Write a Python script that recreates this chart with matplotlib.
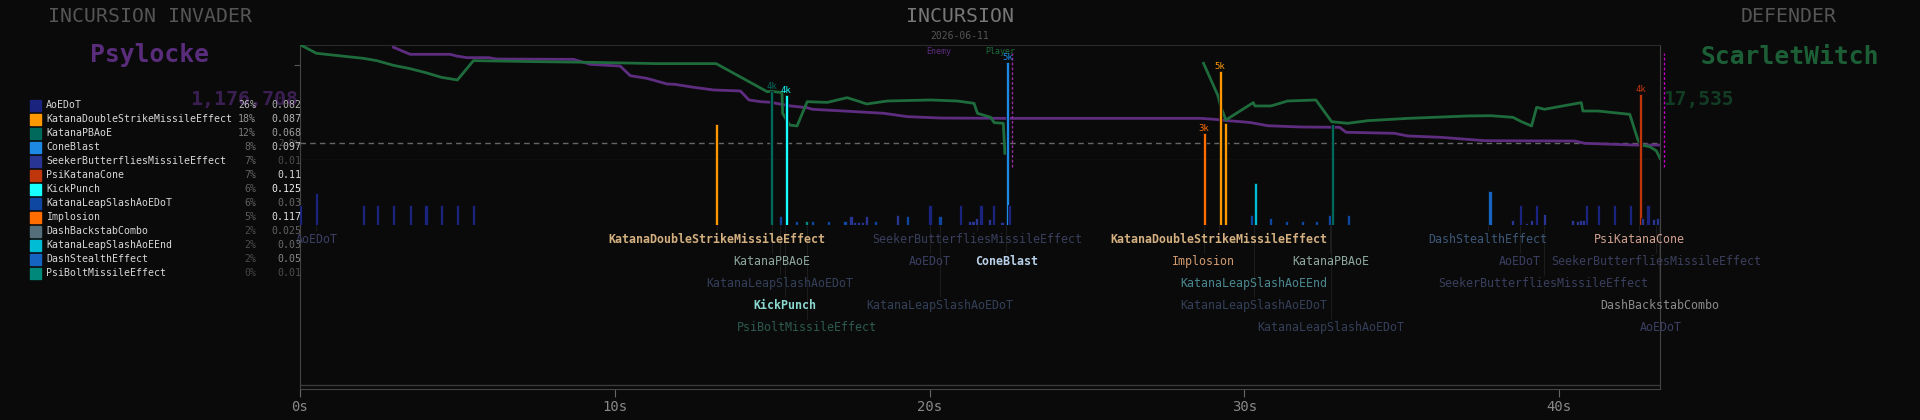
import matplotlib
matplotlib.use('Agg')
import matplotlib.pyplot as plt
from matplotlib.patches import Rectangle
import numpy as np

W, H = 1920, 420
BG = '#0a0a0a'
T_MAX = 43.2
plt.rcParams['font.family'] = 'DejaVu Sans Mono'

# ability table (legend)
abilities = ['AoEDoT', 'KatanaDoubleStrikeMissileEffect', 'KatanaPBAoE', 'ConeBlast',
             'SeekerButterfliesMissileEffect', 'PsiKatanaCone', 'KickPunch',
             'KatanaLeapSlashAoEDoT', 'Implosion', 'DashBackstabCombo',
             'KatanaLeapSlashAoEEnd', 'DashStealthEffect', 'PsiBoltMissileEffect']
ability_colors = ['#1a237e', '#ff9800', '#00695c', '#1e88e5', '#283593', '#bf360c', '#18ffff',
                  '#0d47a1', '#ff6d00', '#546e7a', '#00bcd4', '#1565c0', '#00897b']
label_colors = ['#3b3f63', '#d4b080', '#8fa9a0', '#b8d0e8', '#3a3f5e', '#d0a090', '#8ad8d0',
                '#34405a', '#d09a70', '#8a8a8a', '#4a8890', '#3d5878', '#2d5a50']
bold_labels = ['KatanaDoubleStrikeMissileEffect', 'ConeBlast', 'KickPunch']
shares = [26, 18, 12, 8, 7, 7, 6, 6, 5, 2, 2, 2, 0]
rates = [0.082, 0.087, 0.068, 0.097, 0.01, 0.11, 0.125, 0.03, 0.117, 0.025, 0.03, 0.05, 0.01]

# damage events: time (s), ability, damage (k)
event_t = [0.02, 0.52, 2.01, 2.46, 2.97, 3.51, 4.0, 4.49, 5.0, 5.51,
           13.24, 14.99, 15.27, 15.44, 15.78, 16.1, 16.29, 16.8, 17.31, 17.5,
           17.62, 17.75, 17.87, 18.0, 18.29, 18.98, 19.31, 20.01, 20.33, 20.99,
           21.27, 21.38, 21.5, 21.63, 21.89, 22.03, 22.3, 22.48, 22.55,
           28.72, 29.23, 29.39, 30.23, 30.35, 30.82, 31.33, 31.84, 32.28, 32.7, 32.79, 33.3,
           37.8, 38.52, 38.76, 38.96, 39.13, 39.28, 39.53, 40.42, 40.57, 40.69, 40.76,
           40.87, 41.25, 41.76, 42.27, 42.59, 42.65, 42.82, 42.98, 43.13, 43.25]
event_ability = ['AoEDoT'] * 10 + [
    'KatanaDoubleStrikeMissileEffect', 'KatanaPBAoE', 'KatanaLeapSlashAoEDoT', 'KickPunch',
    'KatanaLeapSlashAoEDoT', 'PsiBoltMissileEffect', 'KatanaLeapSlashAoEDoT',
    'KatanaLeapSlashAoEDoT', 'KatanaLeapSlashAoEDoT', 'SeekerButterfliesMissileEffect',
    'SeekerButterfliesMissileEffect', 'SeekerButterfliesMissileEffect',
    'SeekerButterfliesMissileEffect', 'SeekerButterfliesMissileEffect',
    'KatanaLeapSlashAoEDoT', 'SeekerButterfliesMissileEffect', 'KatanaLeapSlashAoEDoT',
    'AoEDoT', 'KatanaLeapSlashAoEDoT', 'AoEDoT',
    'SeekerButterfliesMissileEffect', 'SeekerButterfliesMissileEffect',
    'SeekerButterfliesMissileEffect', 'AoEDoT', 'SeekerButterfliesMissileEffect', 'AoEDoT',
    'SeekerButterfliesMissileEffect', 'ConeBlast', 'AoEDoT',
    'Implosion', 'KatanaDoubleStrikeMissileEffect', 'KatanaDoubleStrikeMissileEffect',
    'KatanaLeapSlashAoEDoT', 'KatanaLeapSlashAoEEnd', 'KatanaLeapSlashAoEDoT',
    'KatanaLeapSlashAoEDoT', 'KatanaLeapSlashAoEDoT', 'KatanaLeapSlashAoEDoT',
    'KatanaLeapSlashAoEDoT', 'KatanaPBAoE', 'KatanaLeapSlashAoEDoT',
    'DashStealthEffect', 'SeekerButterfliesMissileEffect', 'AoEDoT',
    'SeekerButterfliesMissileEffect', 'SeekerButterfliesMissileEffect', 'AoEDoT',
    'SeekerButterfliesMissileEffect', 'SeekerButterfliesMissileEffect',
    'SeekerButterfliesMissileEffect', 'SeekerButterfliesMissileEffect',
    'SeekerButterfliesMissileEffect',
    'AoEDoT', 'AoEDoT', 'AoEDoT', 'AoEDoT', 'PsiKatanaCone', 'SeekerButterfliesMissileEffect',
    'AoEDoT', 'SeekerButterfliesMissileEffect', 'SeekerButterfliesMissileEffect',
    'DashBackstabCombo']
event_k = [0.62, 1.0, 0.62, 0.62, 0.62, 0.62, 0.62, 0.62, 0.62, 0.62,
           3.15, 4.2, 0.28, 4.05, 0.13, 0.13, 0.13, 0.13, 0.13, 0.28,
           0.08, 0.08, 0.08, 0.28, 0.13, 0.32, 0.28, 0.62, 0.28, 0.62,
           0.13, 0.13, 0.22, 0.62, 0.18, 0.62, 0.09, 5.1, 0.62,
           2.87, 4.8, 3.2, 0.3, 1.3, 0.22, 0.13, 0.13, 0.13, 0.3, 3.15, 0.3,
           1.05, 0.16, 0.62, 0.07, 0.16, 0.62, 0.33, 0.16, 0.13, 0.17, 0.17,
           0.62, 0.62, 0.62, 0.62, 4.1, 0.22, 0.62, 0.18, 0.22, 1.4]

# big-hit tags
peak_t = [14.99, 15.44, 22.48, 28.72, 29.23, 42.59]
peak_text = ['4k', '4k', '5k', '3k', '5k', '4k']

# ability names under the timeline
label_t = [0.52, 13.23, 21.5, 29.2, 37.74, 42.54,
           15.0, 20.0, 22.43, 28.7, 32.73, 38.75, 43.07,
           15.24, 30.3, 39.5,
           15.41, 20.32, 30.3, 43.18,
           16.09, 32.74, 43.23]
label_row = [1] * 6 + [2] * 7 + [3] * 3 + [4] * 4 + [5] * 3
label_name = ['AoEDoT', 'KatanaDoubleStrikeMissileEffect', 'SeekerButterfliesMissileEffect',
              'KatanaDoubleStrikeMissileEffect', 'DashStealthEffect', 'PsiKatanaCone',
              'KatanaPBAoE', 'AoEDoT', 'ConeBlast', 'Implosion', 'KatanaPBAoE', 'AoEDoT',
              'SeekerButterfliesMissileEffect',
              'KatanaLeapSlashAoEDoT', 'KatanaLeapSlashAoEEnd', 'SeekerButterfliesMissileEffect',
              'KickPunch', 'KatanaLeapSlashAoEDoT', 'KatanaLeapSlashAoEDoT', 'DashBackstabCombo',
              'PsiBoltMissileEffect', 'KatanaLeapSlashAoEDoT', 'AoEDoT']

# health (%) of both sides
player_t = [0.02, 0.52, 2.01, 2.44, 2.97, 3.5, 4.0, 4.49, 5.0, 5.51, 7.52, 9.33, 11.34, 13.22,
            14.84, 14.99, 15.31, 15.33, 15.55, 15.79, 16.11, 16.75, 17.38, 17.75, 18.0, 18.65,
            20.03, 20.88, 21.41, 21.52, 21.94, 22.05, 22.34, 22.39, np.nan,
            28.7, 29.15, 29.25, 29.41, 30.28, 30.33, 30.84, 31.37, 32.27, 32.77, 33.28, 33.92,
            35.19, 37.1, 37.84, 38.53, 38.8, 39.12, 39.28, 39.53, 40.7, 40.75, 41.23, 42.24,
            42.5, 42.61, 42.87, 43.08, 43.23]
player_hp = [100, 92.8, 88.4, 86.4, 82.3, 79.4, 75.9, 71.9, 69.6, 86.4, 85.5, 84.9, 83.8, 83.8,
             59.4, 59.7, 58.6, 40.6, 30.4, 29.6, 50.7, 50.1, 54.2, 51.0, 48.7, 51.3,
             52.2, 51.3, 49.3, 40.6, 37.1, 32.5, 31.9, 5.8, np.nan,
             84.1, 56.5, 46.4, 34.8, 49.9, 47, 47, 51.3, 52.2, 33.3, 31.9, 34.2,
             36.2, 38.3, 38.5, 37.1, 33.3, 29.6, 45.8, 44.1, 49.9, 42.6, 42.6, 39.7,
             17.4, 13, 11.6, 8.1, 0]
enemy_t = [2.97, 3.5, 4.77, 4.98, 5.3, 6.0, 6.25, 8.69, 9.22, 10.17, 10.49, 11.02, 11.66, 11.9,
           12.51, 13.14, 13.99, 14.26, 14.63, 14.94, 15.58, 16.11, 16.27, 17.28, 18.55, 19.29,
           20.35, 22.47, 28.62, 29.04, 29.46, 29.89, 30.21, 30.74, 31.8, 33.02, 33.23, 34.76,
           35.19, 36.25, 37.63, 40.49, 40.81, 42.4, 43.24]
enemy_hp = [98, 91.9, 91.9, 90.4, 89, 89, 87.8, 87.5, 83.2, 81.7, 73.3, 71, 66.1, 65.8,
            63.2, 60.9, 60, 52.2, 50.7, 50.2, 47, 45.5, 44.1, 42.6, 40.6, 37.7,
            36.5, 36.2, 36.2, 35.4, 34.2, 33.3, 32.5, 29.8, 28.7, 28.4, 24.1, 23.2,
            20.9, 19.7, 16.8, 16.5, 14.5, 13, 13]

color_of = dict(zip(abilities, ability_colors))
label_color_of = dict(zip(abilities, label_colors))

fig = plt.figure(figsize=(W / 100, H / 100), dpi=100, facecolor=BG)


def box(x0, y0, x1, y1):
    ax = fig.add_axes([x0 / W, 1 - y1 / H, (x1 - x0) / W, (y1 - y0) / H])
    ax.set_facecolor('none')
    ax.set_xlim(0, T_MAX)
    for s in ax.spines.values():
        s.set_visible(False)
    ax.set_xticks([])
    ax.set_yticks([])
    return ax


def ftext(x, y, s, **kw):
    fig.text(x / W, 1 - y / H, s, **kw)


# frame with the time axis
frame = box(300, 45, 1660, 389)
frame.set_ylim(0, 344)
for side, c in [('left', '#444444'), ('right', '#444444'), ('top', '#2a2a2a'), ('bottom', '#444444')]:
    frame.spines[side].set_visible(True)
    frame.spines[side].set_color(c)
frame.axhline(4, color='#3a3a3a', lw=1)
frame.set_xticks([0, 10, 20, 30, 40])
frame.set_xticklabels([f'{v}s' for v in [0, 10, 20, 30, 40]])
frame.tick_params(axis='x', colors='#666666', labelcolor='#888888', labelsize=10, length=6, pad=2)

# health lines
hp = box(300, 45, 1660, 160)
hp.set_ylim(0, 100)
hp.axhline(0, color='#262626', lw=1)
hp.axhline(14.8, color='#666666', lw=1, ls=(0, (4, 3)))
hp.plot(enemy_t, enemy_hp, color='#5e2d80', lw=2)
hp.plot(player_t, player_hp, color='#1e6b3c', lw=2)
hp.set_yticks([82.6])
hp.set_yticklabels([])
hp.tick_params(axis='y', colors='#555555', length=4)
hp.axvline(22.62, ymin=-0.06, ymax=0.93, color='#9a2aa0', lw=1, ls=(0, (2, 1.5)), clip_on=False)
hp.axvline(43.32, ymin=-0.06, ymax=0.93, color='#c000c0', lw=1, ls=(0, (2, 1.5)), clip_on=False)
tr = hp.get_xaxis_transform()
hp.text(20.28, 0.942, 'Enemy', transform=tr, color='#5e2d80', fontsize=6, ha='center', va='center', clip_on=False)
hp.text(22.25, 0.942, 'Player', transform=tr, color='#1e6b3c', fontsize=6, ha='center', va='center', clip_on=False)

# damage bars
bars = box(300, 45, 1660, 225)
bars.set_ylim(0, 180 / 32)
bars.bar(event_t, event_k, width=0.1, color=[color_of[a] for a in event_ability],
         edgecolor=BG, linewidth=0.5, align='center')
for t, s in zip(peak_t, peak_text):
    i = event_t.index(t)
    bars.text(t, event_k[i], s, color=color_of[event_ability[i]], fontsize=6.5,
              ha='center', va='bottom')

# ability names under the bars
lab = box(300, 225, 1660, 389)
lab.set_ylim(1 + 150 / 22, 1 - 14 / 22)
top = 1 - 14 / 22
lab.vlines(label_t, top, np.array(label_row) - 0.35, color='#1c1c1c', lw=0.8)
for t, r, n in zip(label_t, label_row, label_name):
    lab.text(t, r, n, color=label_color_of[n], fontsize=8.4, ha='center', va='center',
             fontweight='bold' if n in bold_labels else 'normal', clip_on=False)

# headers
ftext(150, 16, 'INCURSION INVADER', color='#555555', fontsize=14.3, ha='center', va='center')
ftext(150, 55, 'Psylocke', color='#5a2d7c', fontsize=17.7, fontweight='bold', ha='center', va='center')
ftext(244, 100, '1,176,708', color='#3b1f52', fontsize=14.4, fontweight='bold', ha='center', va='center')
ftext(960, 17, 'INCURSION', color='#777777', fontsize=14.3, ha='center', va='center')
ftext(960, 36, '2026-06-11', color='#555555', fontsize=7, ha='center', va='center')
ftext(1789, 16, 'DEFENDER', color='#555555', fontsize=14.3, ha='center', va='center')
ftext(1790, 57, 'ScarletWitch', color='#1c5e36', fontsize=17.7, fontweight='bold', ha='center', va='center')
ftext(1663, 99, '17,535', color='#123d24', fontsize=14, fontweight='bold', ha='left', va='center')
ftext(300, 143, '2.8%', color='#555555', fontsize=6.5, ha='right', va='center')

# legend
for i, (n, c, s, v) in enumerate(zip(abilities, ability_colors, shares, rates)):
    y = 105.3 + 14 * i
    fig.add_artist(Rectangle((30 / W, 1 - (y + 5.5) / H), 11 / W, 11 / H,
                             transform=fig.transFigure, color=c))
    ftext(46, y, n, color='#d8d8d8', fontsize=7.1, ha='left', va='center')
    g = int(0x44 + (0xbb - 0x44) * s / 26)
    ftext(256, y, f'{s}%', color='#%02x%02x%02x' % (g, g, g), fontsize=7.1, ha='right', va='center')
    g = int(0x40 + (0xee - 0x40) * v / 0.125)
    ftext(301.7, y, f'{v:g}', color='#%02x%02x%02x' % (g, g, g), fontsize=7.1, ha='right', va='center')

fig.savefig('out.png', dpi=100, facecolor=BG)
